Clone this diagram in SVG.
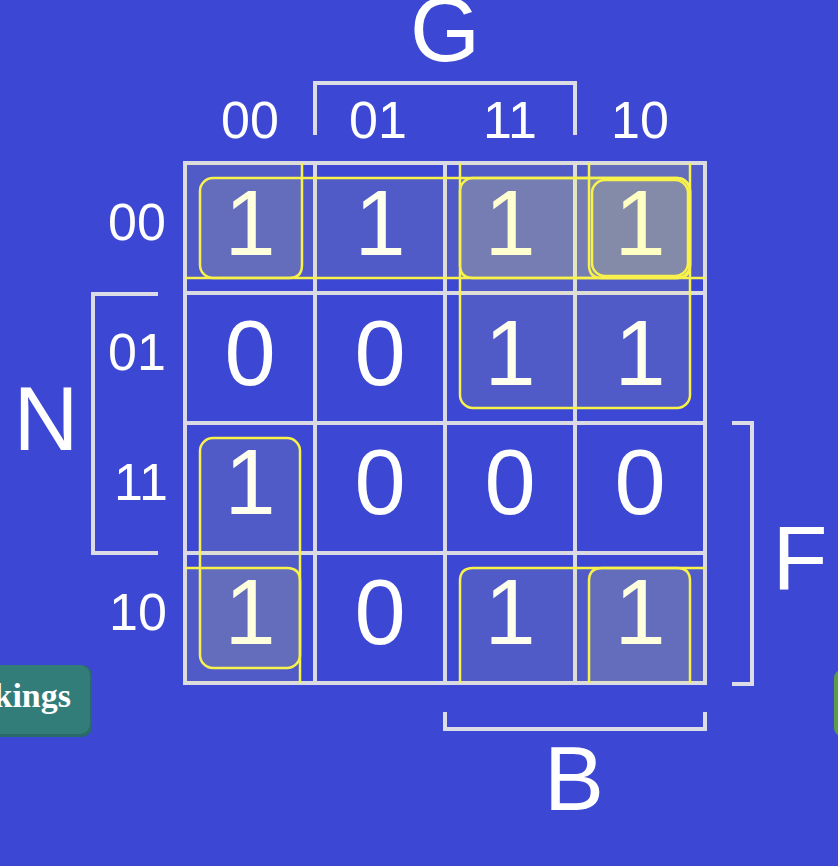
<svg xmlns="http://www.w3.org/2000/svg" width="838" height="866" viewBox="0 0 838 866">
  <defs>
    <style>
      .grid { fill: none; stroke: #dadae4; stroke-width: 4; stroke-linecap: square; }
      .brk { fill: none; stroke: #dcdce6; stroke-width: 4; }
      .val { font-family: "Liberation Sans", Arial, sans-serif; font-size: 92px; fill: #ffffff; text-anchor: middle; }
      .lbl { font-family: "Liberation Sans", Arial, sans-serif; font-size: 52px; fill: #ffffff; text-anchor: middle; }
      .big { font-family: "Liberation Sans", Arial, sans-serif; font-size: 90px; fill: #ffffff; text-anchor: middle; }
      .grp { fill: rgba(255,255,100,0.11); stroke: #f8f24a; stroke-width: 2.5; }
      .ln { fill: none; stroke: #f8f24a; stroke-width: 2.5; }
    </style>
    <clipPath id="gclip">
      <rect x="185" y="163" width="520" height="520"/>
    </clipPath>
  </defs>

  <rect x="0" y="0" width="838" height="866" fill="#3c47d4"/>

  <!-- buttons (partially visible) -->
  <g id="btn-left">
    <rect x="-40" y="665" width="132" height="72" rx="10" fill="#2a6a6a"/>
    <rect x="-40" y="665" width="130" height="69" rx="10" fill="#327c79"/>
    <text x="71" y="707" font-family="Liberation Serif, serif" font-weight="bold" font-size="34" fill="#ffffff" text-anchor="end">kings</text>
  </g>
  <g id="btn-right">
    <rect x="834" y="670" width="40" height="66" rx="8" fill="#5c9b48"/>
  </g>

  <!-- grid -->
  <g id="grid">
    <rect class="grid" x="185" y="163" width="520" height="520"/>
    <path class="grid" d="M315,163 V683 M445,163 V683 M575,163 V683 M185,293 H705 M185,423 H705 M185,553 H705"/>
  </g>

  <!-- cell values -->
  <g id="values">
    <text class="val" x="250" y="255">1</text>
    <text class="val" x="380" y="255">1</text>
    <text class="val" x="510" y="255">1</text>
    <text class="val" x="640" y="255">1</text>
    <text class="val" x="250" y="385">0</text>
    <text class="val" x="380" y="385">0</text>
    <text class="val" x="510" y="385">1</text>
    <text class="val" x="640" y="385">1</text>
    <text class="val" x="250" y="514">1</text>
    <text class="val" x="380" y="514">0</text>
    <text class="val" x="510" y="514">0</text>
    <text class="val" x="640" y="514">0</text>
    <text class="val" x="250" y="644">1</text>
    <text class="val" x="380" y="644">0</text>
    <text class="val" x="510" y="644">1</text>
    <text class="val" x="640" y="644">1</text>
  </g>

  <!-- groupings -->
  <g id="groups" clip-path="url(#gclip)">
    <rect id="g-toprow" class="grp" x="200" y="178" width="490" height="100" rx="13"/>
    <rect id="g-quad" class="grp" x="460" y="178" width="230" height="230" rx="13"/>
    <rect id="g-col" class="grp" x="200" y="438" width="100" height="230" rx="13"/>
    <path id="g-wrap-top" class="grp" d="M460,140 V265 Q460,278 473,278 H730 V140 Z"/>
    <path id="g-wrap-bot" class="grp" d="M460,710 V581 Q460,568 473,568 H730 V710 Z"/>
    <path id="g-corner-tl" class="grp" d="M160,140 V278 H289 Q302,278 302,265 V140 Z"/>
    <path id="g-corner-tr" class="grp" d="M589,140 V265 Q589,278 602,278 H677 Q690,278 690,265 V140 Z"/>
    <path id="g-corner-bl" class="grp" d="M160,710 V568 H287 Q300,568 300,581 V710 Z"/>
    <path id="g-corner-br" class="grp" d="M589,710 V581 Q589,568 602,568 H677 Q690,568 690,581 V710 Z"/>
    <rect class="ln" x="592" y="180" width="96" height="96" rx="13"/>
  </g>

  <!-- column labels -->
  <g id="col-labels">
    <text class="lbl" x="250" y="138">00</text>
    <text class="lbl" x="378" y="138">01</text>
    <text class="lbl" x="510" y="138">11</text>
    <text class="lbl" x="640" y="138">10</text>
  </g>
  <!-- row labels -->
  <g id="row-labels">
    <text class="lbl" x="137" y="240">00</text>
    <text class="lbl" x="137" y="370">01</text>
    <text class="lbl" x="141" y="500">11</text>
    <text class="lbl" x="138" y="630">10</text>
  </g>

  <!-- variable brackets -->
  <g id="brackets">
    <path class="brk" d="M315,135 V83 H575 V135"/>
    <path class="brk" d="M158,294 H93 V553 H158"/>
    <path class="brk" d="M732,423 H752 V684 H732"/>
    <path class="brk" d="M445,712 V729 H705 V712"/>
  </g>
  <g id="var-labels">
    <text class="big" x="445" y="61" font-size="70">G</text>
    <text class="big" x="46" y="450">N</text>
    <text class="big" x="800" y="589">F</text>
    <text class="big" x="574" y="810">B</text>
  </g>
</svg>
